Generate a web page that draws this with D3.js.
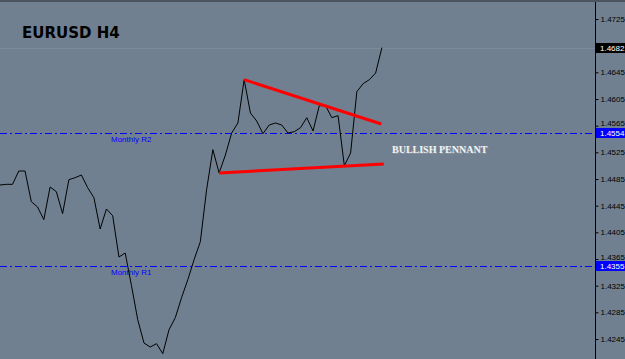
<!DOCTYPE html>
<html>
<head>
<meta charset="utf-8">
<script src="https://cdn.jsdelivr.net/npm/d3@7"></script>
<style>
    html, body { margin: 0; padding: 0; background: #708090; }
    svg { display: block; }
    .tick text { font-family: 'Liberation Sans', Arial, sans-serif; font-size: 8px; fill: #000; }
    .level-label { font-family: 'Liberation Sans', Arial, sans-serif; font-size: 8px; fill: #0000ff; }
</style>
</head>
<body>
<div id="chart"></div>
<script>
// EURUSD H4 closes, one per bar (oldest first)
const closes = [
    1.4476, 1.4477, 1.4477, 1.4497, 1.4497, 1.4451, 1.4443, 1.4424, 1.4473, 1.4466,
    1.4433, 1.4484, 1.4487, 1.4491, 1.4472, 1.4457, 1.4410, 1.4440, 1.4430, 1.4368,
    1.4374, 1.4325, 1.4274, 1.4239, 1.4233, 1.4238, 1.4223, 1.4259, 1.4277, 1.4307,
    1.4334, 1.4364, 1.4391, 1.4469, 1.4529, 1.4494, 1.4521, 1.4554, 1.4569, 1.4634,
    1.4584, 1.4572, 1.4553, 1.4566, 1.4569, 1.4566, 1.4554, 1.4556, 1.4562, 1.4577,
    1.4557, 1.4595, 1.4595, 1.4577, 1.4580, 1.4505, 1.4524, 1.4616, 1.4628, 1.4634,
    1.4644, 1.4682
];

// 1.4685 sits under the last-price tag, so it is left out
const priceTicks = [1.4725, 1.4645, 1.4605, 1.4565, 1.4525, 1.4485,
    1.4445, 1.4405, 1.4365, 1.4325, 1.4285, 1.4245];

// monthly pivot levels
const levelNames = ['Monthly R2', 'Monthly R1'];
const levelPrices = [1.4554, 1.4355];

const lastPrice = 1.4682;

// pennant trendlines: [bar, price] pairs
const upperTrend = [[39, 1.4634], [60.9, 1.45675]];
const lowerTrend = [[35, 1.4494], [61.3, 1.45075]];

class PriceChart {

    constructor(_config) {
        this.config = {
            parentElement: _config.parentElement,
            containerWidth: _config.containerWidth || 625,
            containerHeight: _config.containerHeight || 359,
            axisX: 595
        };
        this.initVis();
    }

    initVis() {
        let vis = this;

        vis.xScale = d3.scaleLinear()
            .domain([0, closes.length - 1])
            .range([0, 381.9]);

        vis.yScale = d3.scaleLinear()
            .domain([1.4245, 1.4725])
            .range([339, 19]);

        vis.svg = d3.select(vis.config.parentElement).append('svg')
            .attr('width', vis.config.containerWidth)
            .attr('height', vis.config.containerHeight);

        vis.svg.append('rect')
            .attr('width', vis.config.containerWidth)
            .attr('height', vis.config.containerHeight)
            .attr('fill', '#708090');

        // dark frame edge on top
        vis.svg.append('rect')
            .attr('width', vis.config.containerWidth)
            .attr('height', 2)
            .attr('fill', '#4b5560');

        vis.renderVis();
    }

    renderVis() {
        let vis = this;
        const ax = vis.config.axisX;

        // bid line
        vis.svg.append('line')
            .attr('x1', 0).attr('x2', ax)
            .attr('y1', Math.round(vis.yScale(lastPrice)) + 0.5)
            .attr('y2', Math.round(vis.yScale(lastPrice)) + 0.5)
            .attr('stroke', '#7d8b99');

        // pivot levels
        levelPrices.forEach((p, i) => {
            const y = Math.round(vis.yScale(p)) + 0.5;
            vis.svg.append('line')
                .attr('x1', 0).attr('x2', ax)
                .attr('y1', y).attr('y2', y)
                .attr('stroke', '#0000ff')
                .attr('stroke-dasharray', '7,3,2,3');
            vis.svg.append('text')
                .attr('class', 'level-label')
                .attr('x', 111)
                .attr('y', y + 8)
                .text(levelNames[i]);
        });

        // price line
        const line = d3.line()
            .x((d, i) => vis.xScale(i))
            .y(d => vis.yScale(d));

        vis.svg.append('path')
            .datum(closes)
            .attr('d', line)
            .attr('fill', 'none')
            .attr('stroke', '#000')
            .attr('stroke-width', 1);

        // pennant
        const trend = d3.line()
            .x(d => vis.xScale(d[0]))
            .y(d => vis.yScale(d[1]));

        [upperTrend, lowerTrend].forEach(t => {
            vis.svg.append('path')
                .datum(t)
                .attr('d', trend)
                .attr('stroke', '#ff0000')
                .attr('stroke-width', 3)
                .attr('fill', 'none');
        });

        vis.svg.append('text')
            .attr('x', 392)
            .attr('y', 153)
            .attr('font-family', "'Liberation Serif', 'Times New Roman', serif")
            .attr('font-weight', 'bold')
            .attr('font-size', 10)
            .attr('fill', '#f4f4f4')
            .style('text-shadow', '1px 1px 0 #8a96a2')
            .text('BULLISH PENNANT');

        vis.svg.append('text')
            .attr('x', 22)
            .attr('y', 38)
            .attr('font-family', "'DejaVu Sans', Verdana, sans-serif")
            .attr('font-weight', 'bold')
            .attr('font-size', 15)
            .attr('fill', '#000')
            .text('EURUSD H4');

        // price axis on the right
        vis.yAxis = d3.axisRight(vis.yScale)
            .tickValues(priceTicks)
            .tickSize(3)
            .tickPadding(2)
            .tickFormat(d3.format('.4f'));

        // labels just above a level tag get nudged up so they stay readable
        const nearTag = d => levelPrices.some(p => Math.abs(vis.yScale(d) - vis.yScale(p)) < 10);

        vis.svg.append('g')
            .attr('class', 'axis y-axis')
            .attr('transform', `translate(${ax + 0.5},0)`)
            .call(vis.yAxis)
            .call(g => g.select('.domain').remove())
            .call(g => g.selectAll('.tick line').attr('stroke', '#000'))
            .call(g => g.selectAll('.tick text')
                .filter(nearTag)
                .attr('y', -2.5));

        vis.svg.append('line')
            .attr('x1', ax + 0.5).attr('x2', ax + 0.5)
            .attr('y1', 2).attr('y2', vis.config.containerHeight)
            .attr('stroke', '#000');

        // price tags
        const tags = levelPrices.map(p => ({ price: p, fill: '#0000ff' }))
            .concat([{ price: lastPrice, fill: '#000' }]);

        tags.forEach(t => {
            const y = vis.yScale(t.price);
            vis.svg.append('rect')
                .attr('x', ax + 1)
                .attr('y', Math.round(y) - 5)
                .attr('width', vis.config.containerWidth - ax - 1)
                .attr('height', 10)
                .attr('fill', t.fill);
            vis.svg.append('text')
                .attr('x', ax + 5)
                .attr('y', Math.round(y) + 3)
                .attr('font-family', "'Liberation Sans', Arial, sans-serif")
                .attr('font-size', 8)
                .attr('fill', '#fff')
                .text(d3.format('.4f')(t.price));
        });
    }
}

new PriceChart({ parentElement: '#chart' });
</script>
</body>
</html>
